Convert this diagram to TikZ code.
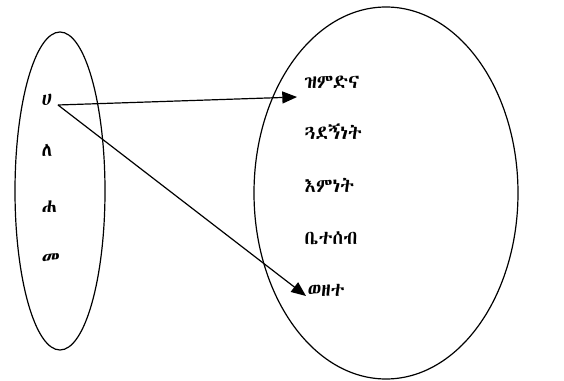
\documentclass[tikz,border=0pt]{standalone}
\usepackage{fontspec}
\usepackage{tikz}
\usetikzlibrary{arrows.meta,positioning,shapes.geometric}
\newfontfamily\ethfont{Abyssinica SIL}

\tikzset{
  setline/.style={black,line width=0.9pt},
  elem/.style={font=\ethfont\fontsize{14.5}{16}\selectfont,inner sep=1pt,anchor=west},
  maparrow/.style={black,line width=0.9pt,-{Triangle[length=11pt,width=9pt]}}
}

\begin{document}
\begin{tikzpicture}[x=0.75pt,y=-0.75pt]
    \useasboundingbox (0,0) rectangle (564,381);
    % the two sets
    \draw[setline] (60,191) ellipse [x radius=45,y radius=159];
    \draw[setline] (386,193) ellipse [x radius=132,y radius=186];
    % left set
    \node[elem] (ha) at (40,100) {ሀ};
    \node[elem] (le) at (40,150) {ለ};
    \node[elem] (hha) at (40,207) {ሐ};
    \node[elem] (me) at (40,259) {መ};
    % right set
    \node[elem] (zimd) at (303,82) {ዝምድና};
    \node[elem] (gwad) at (303,132) {ጓደኝነት};
    \node[elem] (imnet) at (303,185) {እምነት};
    \node[elem] (betes) at (303,238) {ቤተሰብ};
    \node[elem] (wezet) at (306,290) {ወዘተ};
    % arrow ends
    \coordinate (from) at (58,105);
    \coordinate (to1) at (297,97);
    \coordinate (to2) at (306,296);
    \draw[maparrow] (from) -- (to1);
    \draw[maparrow] (from) -- (to2);
\end{tikzpicture}
\end{document}
